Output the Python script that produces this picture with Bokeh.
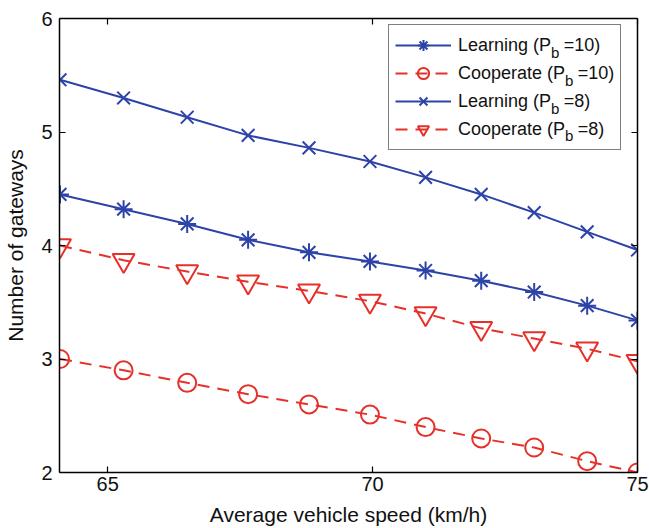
from bokeh.plotting import figure
from bokeh.models import Range1d, LinearAxis, FixedTicker, Legend, LegendItem, Label
from bokeh.embed import file_html
from bokeh.resources import INLINE

# ---- data ----
speed = [64.1, 65.3, 66.5, 67.65, 68.8, 69.95, 71.0, 72.05, 73.05, 74.05, 75.0]
learning_pb10 = [4.45, 4.32, 4.19, 4.05, 3.94, 3.86, 3.78, 3.69, 3.59, 3.47, 3.34]
cooperate_pb10 = [3.00, 2.90, 2.79, 2.69, 2.60, 2.51, 2.40, 2.30, 2.22, 2.10, 2.00]
learning_pb8 = [5.46, 5.30, 5.13, 4.97, 4.86, 4.74, 4.60, 4.45, 4.29, 4.12, 3.96]
cooperate_pb8 = [4.00, 3.87, 3.77, 3.68, 3.60, 3.51, 3.40, 3.27, 3.18, 3.09, 2.98]
x_ticks = [65, 70, 75]
y_ticks = [2, 3, 4, 5, 6]
series_names = ["Learning (P", "Cooperate (P", "Learning (P", "Cooperate (P"]
series_tails = ["=10)", "=10)", "=8)", "=8)"]

BLUE = "#2D43A8"
RED = "#E5312A"
FONT = "Liberation Sans"

X0, X1, Y0, Y1 = 64.09, 75.0, 2.0, 6.0
W, H = 649, 528
BL, BR, BT, BB = 59, 12, 18, 54          # borders around the frame
FW, FH = W - BL - BR, H - BT - BB        # frame size in px

p = figure(width=W, height=H, output_backend="svg", toolbar_location=None,
           x_range=Range1d(X0, X1), y_range=Range1d(Y0, Y1),
           min_border_left=BL, min_border_right=BR, min_border_top=BT, min_border_bottom=BB)
p.grid.visible = False
p.outline_line_color = None
p.background_fill_color = "white"
p.border_fill_color = "white"

def style_axis(ax, labels=True):
    ax.axis_line_color = "black"
    ax.axis_line_width = 1.5
    ax.major_tick_line_color = "black"
    ax.major_tick_line_width = 1.2
    ax.major_tick_in = 6
    ax.major_tick_out = 0
    ax.minor_tick_line_color = None
    ax.major_label_text_font = FONT
    ax.major_label_text_color = "#111111"
    if labels:
        ax.major_label_text_font_size = "20px"
    else:
        ax.major_label_text_font_size = "0px"
        ax.major_label_text_color = None
        ax.major_label_standoff = 0

p.xaxis.ticker = FixedTicker(ticks=x_ticks)
p.yaxis.ticker = FixedTicker(ticks=y_ticks)
style_axis(p.xaxis[0])
style_axis(p.yaxis[0])
p.xaxis.major_label_standoff = 4
p.yaxis.major_label_standoff = 7
p.xaxis.axis_label = "Average vehicle speed (km/h)"
p.yaxis.axis_label = "Number of gateways"
for ax in (p.xaxis[0], p.yaxis[0]):
    ax.axis_label_text_font = FONT
    ax.axis_label_text_font_size = "21px"
    ax.axis_label_text_font_style = "normal"
    ax.axis_label_text_color = "#111111"
p.xaxis.axis_label_standoff = 9
p.yaxis.axis_label_standoff = 11

top_ax = LinearAxis(ticker=FixedTicker(ticks=x_ticks))
style_axis(top_ax, labels=False)
p.add_layout(top_ax, "above")
right_ax = LinearAxis(ticker=FixedTicker(ticks=y_ticks))
style_axis(right_ax, labels=False)
p.add_layout(right_ax, "right")

# ---- series ----
specs = [
    (learning_pb10, BLUE, "solid", "asterisk", 18),
    (cooperate_pb10, RED, "12 8", "circle", 18),
    (learning_pb8, BLUE, "solid", "x", 18),
    (cooperate_pb8, RED, "12 8", "inverted_triangle", 22),
]
items = []
for i, (ys, col, dash, marker, size) in enumerate(specs):
    ln = p.line(speed, ys, line_color=col, line_width=2, line_dash=dash)
    sc = p.scatter(speed, ys, marker=marker, size=size, line_color=col,
                   line_width=2, fill_color=None)
    label = series_names[i] + "\u2002\u2009" + series_tails[i]
    items.append(LegendItem(label=label, renderers=[ln, sc]))

LEG_X, LEG_Y = 329, 322       # legend bottom-left offset from frame bottom-left (px)
PAD, GW, ROW, STAND = 6, 56, 28, 7
legend = Legend(items=items, location=(LEG_X, LEG_Y), margin=0,
                label_text_font=FONT, label_text_font_size="18px",
                label_text_color="#111111",
                glyph_width=GW, glyph_height=ROW, label_height=ROW,
                label_standoff=STAND, padding=PAD, spacing=0,
                border_line_color="black", border_line_width=1.5,
                background_fill_color="white", background_fill_alpha=0)
p.add_layout(legend)

# subscript "b" of P_b in the legend texts; pixel offsets converted to data units
def px_to_x(px):
    return X0 + (px - BL) * (X1 - X0) / FW

def py_to_y(py):
    return Y1 - (py - BT) * (Y1 - Y0) / FH

name_widths = [93.5, 107.5, 93.5, 107.5]
text_start = BL + LEG_X + PAD + GW + STAND
legend_bottom = BT + FH - LEG_Y
for i in range(4):
    row_center = legend_bottom - PAD - ROW * (3 - i) - ROW / 2
    lab = Label(x=px_to_x(text_start + name_widths[i]), y=py_to_y(row_center + 4),
                x_units="data", y_units="data",
                text="b", text_font=FONT, text_font_size="15px",
                text_color="#111111", text_baseline="alphabetic",
                text_align="left")
    p.add_layout(lab, "center")

open("out.html", "w").write(file_html(p, INLINE))
